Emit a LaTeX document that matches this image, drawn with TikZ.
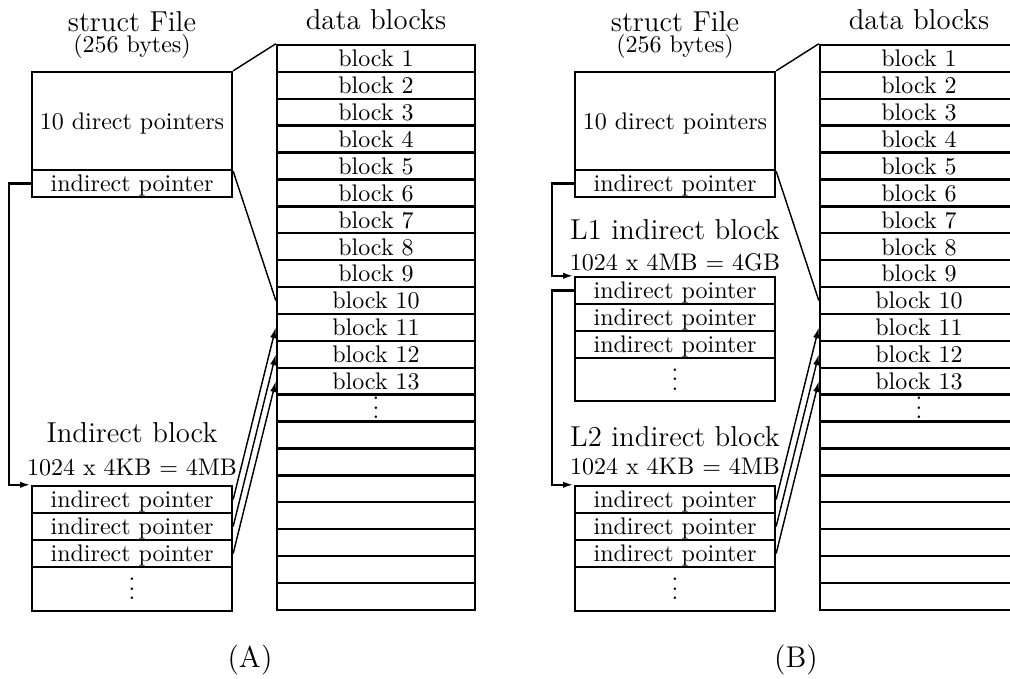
\documentclass[tikz,border=0pt]{standalone}
\usetikzlibrary{arrows.meta}
\newcommand\mydots{\vbox{\baselineskip4pt\lineskiplimit0pt\hbox{.}\hbox{.}\hbox{.}}}
\begin{document}
\begin{tikzpicture}[x=0.4167pt,y=-0.4167pt,
  box/.style={draw,line width=1pt,inner sep=0pt,minimum width=83.3pt,minimum height=11.25pt,text height=6.9pt,text depth=0pt},
  datarow/.style={box,minimum width=82.5pt,minimum height=11.21pt},
  dotsrow/.style={text height=9pt,text depth=0pt},
  title/.style={font=\large,inner sep=0pt},
  sub/.style={inner sep=0pt},
  captext/.style={font=\fontsize{12.5}{14}\selectfont,inner sep=0pt},
  fan/.style={line width=0.6pt},
  ptr/.style={line width=0.6pt,-{Latex[length=4.5pt,width=2.6pt]}},
  link/.style={line width=1pt,-{Latex[length=4.5pt,width=2.6pt]}}]
\useasboundingbox (0,0) rectangle (1010,679);

% ---------------- Panel A ----------------
\node[title] (A-sft) at (132,22) {struct File};
\node[sub] (A-sfs) at (132,47) {(256 bytes)};
\node[title] (A-dbt) at (376,20) {data blocks};
\node[box,minimum height=40.8pt] (A-dir) at (132,121) {10 direct pointers};
\node[box] (A-sip) at (132,183.5) {indirect pointer};
\node[title] (A-ibt) at (132,433) {Indirect block};
\node[sub] (A-ibs) at (132,468) {1024 x 4KB = 4MB};
\node[box] (A-p1) at (132,499.5) {indirect pointer};
\node[box] (A-p2) at (132,526.5) {indirect pointer};
\node[box] (A-p3) at (132,553.5) {indirect pointer};
\node[box,dotsrow,minimum height=18.3pt] (A-p4) at (132,589) {\mydots};
\foreach \i in {1,...,21}{
  \ifnum\i=14
    \node[datarow,dotsrow] (A-b\i) at (376,{45+(\i-0.5)*26.9}) {\mydots};
  \else
    \node[datarow] (A-b\i) at (376,{45+(\i-0.5)*26.9}) {\ifnum\i<14 block \i\fi};
  \fi
}
\node[captext] (A-cap) at (250,660) {(A)};

\draw[fan] (A-dir.north east) -- (A-b1.north west);
\draw[fan] (A-dir.south east) -- (A-b10.west);
\draw[ptr] (A-p1.east) -- (A-b11.west);
\draw[ptr] (A-p2.east) -- (A-b12.west);
\draw[ptr] (A-p3.east) -- (A-b13.west);
\draw[link] (A-sip.west) -- ++(-22,0) |- (A-p1.north west);

% ---------------- Panel B ----------------
\node[title] (B-sft) at (675,22) {struct File};
\node[sub] (B-sfs) at (675,47) {(256 bytes)};
\node[title] (B-dbt) at (919,20) {data blocks};
\node[box,minimum height=40.8pt] (B-dir) at (675,121) {10 direct pointers};
\node[box] (B-sip) at (675,183.5) {indirect pointer};
\node[title] (B-l1t) at (675,230) {L1 indirect block};
\node[sub] (B-l1s) at (675,262) {1024 x 4MB = 4GB};
\node[box] (B-L1p1) at (675,290.5) {indirect pointer};
\node[box] (B-L1p2) at (675,317.5) {indirect pointer};
\node[box] (B-L1p3) at (675,344.5) {indirect pointer};
\node[box,dotsrow,minimum height=17.9pt] (B-L1p4) at (675,379.5) {\mydots};
\node[title] (B-l2t) at (675,437) {L2 indirect block};
\node[sub] (B-l2s) at (675,467) {1024 x 4KB = 4MB};
\node[box] (B-L2p1) at (675,499.5) {indirect pointer};
\node[box] (B-L2p2) at (675,526.5) {indirect pointer};
\node[box] (B-L2p3) at (675,553.5) {indirect pointer};
\node[box,dotsrow,minimum height=18.3pt] (B-L2p4) at (675,589) {\mydots};
\foreach \i in {1,...,21}{
  \ifnum\i=14
    \node[datarow,dotsrow] (B-b\i) at (919,{45+(\i-0.5)*26.9}) {\mydots};
  \else
    \node[datarow] (B-b\i) at (919,{45+(\i-0.5)*26.9}) {\ifnum\i<14 block \i\fi};
  \fi
}
\node[captext] (B-cap) at (796,660) {(B)};

\draw[fan] (B-dir.north east) -- (B-b1.north west);
\draw[fan] (B-dir.south east) -- (B-b10.west);
\draw[ptr] (B-L2p1.east) -- (B-b11.west);
\draw[ptr] (B-L2p2.east) -- (B-b12.west);
\draw[ptr] (B-L2p3.east) -- (B-b13.west);
\draw[link] (B-sip.west) -- ++(-22,0) |- (B-L1p1.north west);
\draw[link] (B-L1p1.west) -- ++(-22,0) |- (B-L2p1.north west);
\end{tikzpicture}
\end{document}
